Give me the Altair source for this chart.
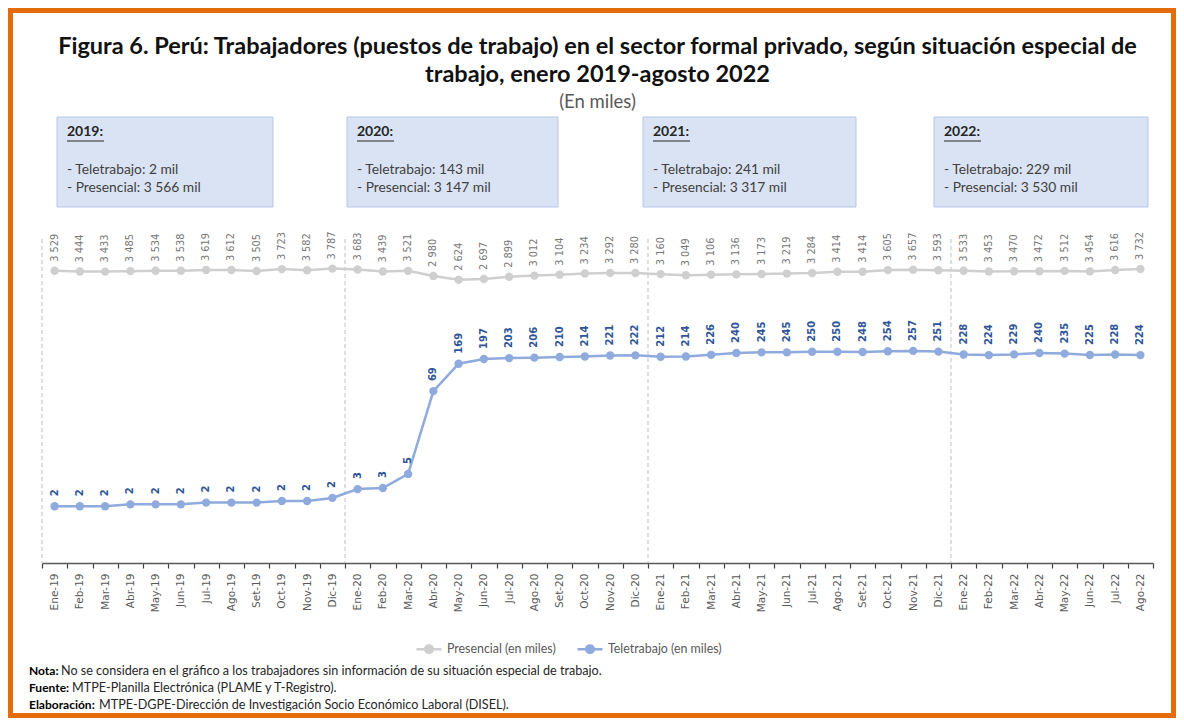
import altair as alt
import pandas as pd

# ---------------- data ----------------
meses = ["Ene-19", "Feb-19", "Mar-19", "Abr-19", "May-19", "Jun-19", "Jul-19", "Ago-19", "Set-19", "Oct-19", "Nov-19", "Dic-19",
         "Ene-20", "Feb-20", "Mar-20", "Abr-20", "May-20", "Jun-20", "Jul-20", "Ago-20", "Set-20", "Oct-20", "Nov-20", "Dic-20",
         "Ene-21", "Feb-21", "Mar-21", "Abr-21", "May-21", "Jun-21", "Jul-21", "Ago-21", "Set-21", "Oct-21", "Nov-21", "Dic-21",
         "Ene-22", "Feb-22", "Mar-22", "Abr-22", "May-22", "Jun-22", "Jul-22", "Ago-22"]

presencial = [3529, 3444, 3433, 3485, 3534, 3538, 3619, 3612, 3505, 3723, 3582, 3787,
              3683, 3439, 3521, 2980, 2624, 2697, 2899, 3012, 3104, 3234, 3292, 3280,
              3160, 3049, 3106, 3136, 3173, 3219, 3284, 3414, 3414, 3605, 3657, 3593,
              3533, 3453, 3470, 3472, 3512, 3454, 3616, 3732]

teletrabajo = [1.6, 1.6, 1.6, 1.7, 1.7, 1.7, 1.8, 1.8, 1.8, 1.9, 1.9, 2.1,
               2.8, 2.9, 4.6, 69, 169, 197, 203, 206, 210, 214, 221, 222,
               212, 214, 226, 240, 245, 245, 250, 250, 248, 254, 257, 251,
               228, 224, 229, 240, 235, 225, 228, 224]

series = ["Presencial (en miles)", "Teletrabajo (en miles)"]

anios = ["2019", "2020", "2021", "2022"]
tele_anual = [2, 143, 241, 229]
pres_anual = [3566, 3147, 3317, 3530]

titulo = ["Figura 6. Perú: Trabajadores (puestos de trabajo) en el sector formal privado, según situación especial de",
          "trabajo, enero 2019-agosto 2022"]
subtitulo = "(En miles)"
notas = [("Nota:", "No se considera en el gráfico a los trabajadores sin información de su situación especial de trabajo."),
         ("Fuente:", "MTPE-Planilla Electrónica (PLAME y T-Registro)."),
         ("Elaboración:", "MTPE-DGPE-Dirección de Investigación Socio Económico Laboral (DISEL).")]


def miles(v):
    return f"{int(round(v)):,}".replace(",", " ")


df = pd.DataFrame({
    "mes": meses * 2,
    "serie": [series[0]] * len(meses) + [series[1]] * len(meses),
    "valor": presencial + teletrabajo,
})
df["label"] = [miles(v) for v in df["valor"]]

rules_df = pd.DataFrame({"mes": [m for m in meses if m.startswith("Ene")]})
box_df = pd.DataFrame({"anio": anios, "tele": tele_anual, "pres": pres_anual})
box_df["t0"] = box_df["anio"] + ":"
box_df["t1"] = ["- Teletrabajo: " + miles(v) + " mil" for v in tele_anual]
box_df["t2"] = ["- Presencial: " + miles(v) + " mil" for v in pres_anual]
dummy = pd.DataFrame({"k": [0]})

# ---------------- layout ----------------
W, H = 1111, 318
GRAY = "#CFCFCF"
BLUE = "#8FAADC"
ORANGE = "#E46C0A"

x_scale = alt.Scale(type="band", domain=meses, paddingInner=0, paddingOuter=0)
x_axis = alt.Axis(title=None, labelAngle=270, labelAlign="right", labelBaseline="middle",
                  labelFont="DejaVu Sans", labelFontSize=10.5, labelColor="#595959",
                  labelPadding=5, tickSize=5, tickColor="#404040", tickWidth=1.2,
                  domainColor="#595959", domainWidth=1.5, tickBand="extent", grid=False,
                  labelOverlap=False)
x_enc = alt.X("mes:N", scale=x_scale, axis=x_axis)
y_enc = alt.Y("valor:Q", scale=alt.Scale(type="log", domain=[0.25, 8192], nice=False, zero=False), axis=None)

sym_path = "M-1,0L1,0M0.3,0A0.3,0.3,0,1,1,-0.3,0A0.3,0.3,0,1,1,0.3,0Z"

rules = alt.Chart(rules_df).mark_rule(color="#BFBFBF", strokeDash=[4, 3], strokeWidth=1).encode(
    x=alt.X("mes:N", scale=x_scale, axis=x_axis, bandPosition=0),
    y=alt.value(-6), y2=alt.value(H))

lines = alt.Chart(df).mark_line(strokeWidth=2.5, point=alt.OverlayMarkDef(filled=True, size=70)).encode(
    x=x_enc, y=y_enc,
    color=alt.Color("serie:N", scale=alt.Scale(domain=series, range=[GRAY, BLUE]),
                    legend=alt.Legend(orient="none", legendX=373, legendY=390, direction="horizontal",
                                      title=None, symbolType=sym_path, symbolSize=625,
                                      symbolStrokeWidth=2.5, labelFont="Lato", labelFontSize=12.4,
                                      labelColor="#595959", columnPadding=16, labelOffset=4)))

pres_text = alt.Chart(df).transform_filter(alt.datum.serie == series[0]).mark_text(
    angle=270, align="left", baseline="middle", dx=9, font="DejaVu Sans", fontSize=9.8,
    color="#777777").encode(x=x_enc, y=y_enc, text="label:N")

tele_text = alt.Chart(df).transform_filter(alt.datum.serie == series[1]).mark_text(
    angle=270, align="left", baseline="middle", dx=10, font="DejaVu Sans", fontSize=10,
    fontWeight="bold", color="#2F5597").encode(x=x_enc, y=y_enc, text="label:N")

layers = [rules, lines, pres_text, tele_text]

# annotation boxes
box_left = [15, 305, 601, 892]
box_w = [216, 211, 213, 214]
for i, a in enumerate(anios):
    base = alt.Chart(box_df).transform_filter(alt.datum.anio == a)
    bx = box_left[i]
    layers.append(base.mark_rect(fill="#DAE3F3", stroke="#B4C7E7", strokeWidth=1).encode(
        x=alt.value(bx), x2=alt.value(bx + box_w[i]), y=alt.value(-128), y2=alt.value(-38)))
    layers.append(base.mark_text(align="left", baseline="middle", font="Lato", fontSize=14,
                                 fontWeight="bold", color="#262626").encode(
        x=alt.value(bx + 10), y=alt.value(-113), text="t0:N"))
    layers.append(base.mark_rule(color="#262626", strokeWidth=1).encode(
        x=alt.value(bx + 10), x2=alt.value(bx + 47), y=alt.value(-104)))
    layers.append(base.mark_text(align="left", baseline="middle", font="Lato", fontSize=13.8,
                                 color="#404040").encode(
        x=alt.value(bx + 10), y=alt.value(-75), text="t1:N"))
    layers.append(base.mark_text(align="left", baseline="middle", font="Lato", fontSize=13.8,
                                 color="#404040").encode(
        x=alt.value(bx + 10), y=alt.value(-57), text="t2:N"))

# titles
layers.append(alt.Chart(dummy).mark_text(text=titulo[0], align="center", baseline="middle", font="Lato",
                                         fontSize=23.5, fontWeight="bold", color="#111111").encode(
    x=alt.value(W / 2), y=alt.value(-198)))
layers.append(alt.Chart(dummy).mark_text(text=titulo[1], align="center", baseline="middle", font="Lato",
                                         fontSize=23.5, fontWeight="bold", color="#111111").encode(
    x=alt.value(W / 2), y=alt.value(-170)))
layers.append(alt.Chart(dummy).mark_text(text=subtitulo, align="center", baseline="middle", font="Lato",
                                         fontSize=18.5, color="#595959").encode(
    x=alt.value(W / 2), y=alt.value(-143)))

# notes
nota_y = [426, 443, 460]
nota_x2 = [19, 30, 57]
for i, (b, t) in enumerate(notas):
    layers.append(alt.Chart(dummy).mark_text(text=b, align="left", baseline="middle", font="Lato",
                                             fontSize=12, fontWeight="bold", color="#000000").encode(
        x=alt.value(-13), y=alt.value(nota_y[i])))
    layers.append(alt.Chart(dummy).mark_text(text=t, align="left", baseline="middle", font="Lato",
                                             fontSize=12.6, color="#262626").encode(
        x=alt.value(nota_x2[i]), y=alt.value(nota_y[i])))

# orange frame
layers.append(alt.Chart(dummy).mark_rect(fillOpacity=0, stroke=ORANGE, strokeWidth=5).encode(
    x=alt.value(-31.5), x2=alt.value(1131.5), y=alt.value(-234.5), y2=alt.value(470.5)))

chart = alt.layer(*layers).properties(
    width=W, height=H,
    autosize=alt.AutoSizeParams(type="none"),
    padding={"left": 34, "top": 237, "right": 23, "bottom": 155},
    background="white",
).configure_view(stroke=None)

chart.save("out.html", embed_options={"renderer": "svg", "actions": False})
